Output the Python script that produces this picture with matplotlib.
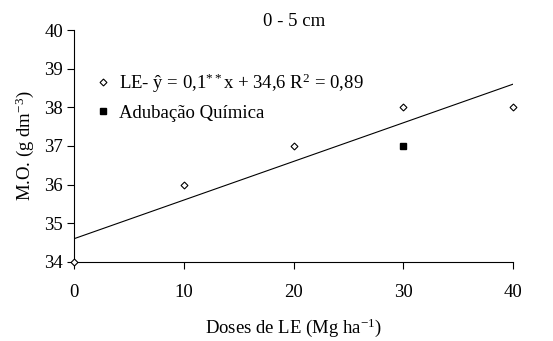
import matplotlib
matplotlib.use("Agg")
import matplotlib.pyplot as plt
import numpy as np

plt.rcParams['font.family'] = ['Liberation Serif', 'DejaVu Serif']
plt.rcParams['mathtext.fontset'] = 'custom'
plt.rcParams['mathtext.rm'] = 'Liberation Serif'
plt.rcParams['mathtext.it'] = 'Liberation Serif:italic'
plt.rcParams['font.size'] = 13.5

# data
doses = [0, 10, 20, 30, 40]
mo_le = [34, 36, 37, 38, 38]
dose_quimica = [30]
mo_quimica = [37]
coef_a = 0.1
coef_b = 34.6

fig = plt.figure(figsize=(5.53, 3.41), dpi=100)
ax = fig.add_axes([0.134, 0.232, 0.794, 0.68])

x_fit = np.array([0, 40])
ax.plot(x_fit, coef_a * x_fit + coef_b, color='black', linewidth=0.8)
ax.plot(doses, mo_le, linestyle='none', marker='D', markersize=3.5,
        markerfacecolor='white', markeredgecolor='black', markeredgewidth=0.8,
        label=r'LE- ŷ = 0,1$\mathregular{^{**}}$x + 34,6 R$\mathregular{^{2}}$ = 0,89',
        clip_on=False, zorder=3)
ax.plot(dose_quimica, mo_quimica, linestyle='none', marker='s', markersize=4.5,
        color='black', label='Adubação Química', zorder=3)

ax.set_xlim(0, 40)
ax.set_ylim(34, 40)
ax.set_xticks([0, 10, 20, 30, 40])
ax.set_yticks([34, 35, 36, 37, 38, 39, 40])
ax.spines['top'].set_visible(False)
ax.spines['right'].set_visible(False)
ax.spines['left'].set_linewidth(0.8)
ax.spines['bottom'].set_linewidth(0.8)
ax.tick_params(direction='out', length=5, width=0.8, pad=3)
ax.tick_params(axis='x', pad=11)

ax.set_xlabel(r'Doses de LE (Mg ha$\mathregular{^{-1}}$)', labelpad=11)
ax.set_ylabel(r'M.O. (g dm$\mathregular{^{-3}}$)', labelpad=6)
ax.set_title('0 - 5 cm', fontsize=13.5, pad=0)

ax.legend(loc='upper left', bbox_to_anchor=(0.035, 0.855), frameon=False,
          handlelength=0.6, handletextpad=0.6, labelspacing=0.55,
          borderaxespad=0)

fig.savefig('out.png', dpi=100)
